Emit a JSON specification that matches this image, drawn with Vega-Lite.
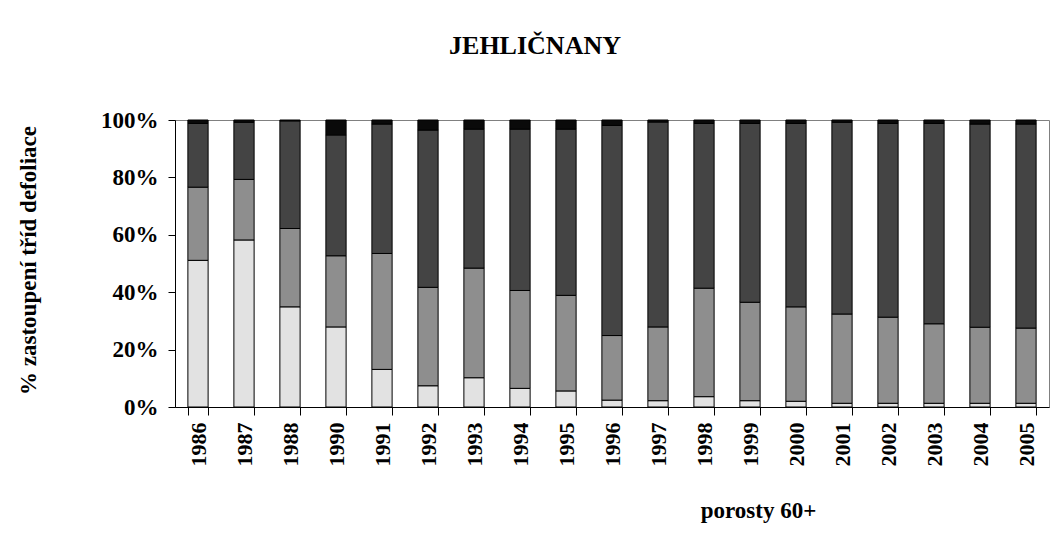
{
  "$schema": "https://vega.github.io/schema/vega-lite/v6.json",
  "width": 874,
  "height": 287,
  "autosize": "none",
  "padding": {"left": 175, "top": 120, "right": 4, "bottom": 133},
  "background": "white",
  "title": {
    "text": "JEHLIČNANY",
    "font": "Liberation Serif",
    "fontSize": 26,
    "fontWeight": "bold",
    "color": "black",
    "anchor": "middle",
    "dx": -77,
    "offset": 50
  },
  "data": {
    "values": [
      {"rok": "1986", "trida": "0", "podil": 51.1}, {"rok": "1986", "trida": "1", "podil": 25.5}, {"rok": "1986", "trida": "2", "podil": 22.2}, {"rok": "1986", "trida": "3+4", "podil": 1.2},
      {"rok": "1987", "trida": "0", "podil": 58.2}, {"rok": "1987", "trida": "1", "podil": 21.1}, {"rok": "1987", "trida": "2", "podil": 19.9}, {"rok": "1987", "trida": "3+4", "podil": 0.8},
      {"rok": "1988", "trida": "0", "podil": 34.9}, {"rok": "1988", "trida": "1", "podil": 27.3}, {"rok": "1988", "trida": "2", "podil": 37.5}, {"rok": "1988", "trida": "3+4", "podil": 0.3},
      {"rok": "1990", "trida": "0", "podil": 27.9}, {"rok": "1990", "trida": "1", "podil": 24.8}, {"rok": "1990", "trida": "2", "podil": 42.1}, {"rok": "1990", "trida": "3+4", "podil": 5.2},
      {"rok": "1991", "trida": "0", "podil": 13.1}, {"rok": "1991", "trida": "1", "podil": 40.4}, {"rok": "1991", "trida": "2", "podil": 45.1}, {"rok": "1991", "trida": "3+4", "podil": 1.4},
      {"rok": "1992", "trida": "0", "podil": 7.4}, {"rok": "1992", "trida": "1", "podil": 34.3}, {"rok": "1992", "trida": "2", "podil": 54.8}, {"rok": "1992", "trida": "3+4", "podil": 3.5},
      {"rok": "1993", "trida": "0", "podil": 10.2}, {"rok": "1993", "trida": "1", "podil": 38.2}, {"rok": "1993", "trida": "2", "podil": 48.4}, {"rok": "1993", "trida": "3+4", "podil": 3.2},
      {"rok": "1994", "trida": "0", "podil": 6.5}, {"rok": "1994", "trida": "1", "podil": 34.1}, {"rok": "1994", "trida": "2", "podil": 56.2}, {"rok": "1994", "trida": "3+4", "podil": 3.2},
      {"rok": "1995", "trida": "0", "podil": 5.6}, {"rok": "1995", "trida": "1", "podil": 33.3}, {"rok": "1995", "trida": "2", "podil": 57.9}, {"rok": "1995", "trida": "3+4", "podil": 3.2},
      {"rok": "1996", "trida": "0", "podil": 2.4}, {"rok": "1996", "trida": "1", "podil": 22.5}, {"rok": "1996", "trida": "2", "podil": 73.2}, {"rok": "1996", "trida": "3+4", "podil": 1.9},
      {"rok": "1997", "trida": "0", "podil": 2.2}, {"rok": "1997", "trida": "1", "podil": 25.7}, {"rok": "1997", "trida": "2", "podil": 71.4}, {"rok": "1997", "trida": "3+4", "podil": 0.7},
      {"rok": "1998", "trida": "0", "podil": 3.6}, {"rok": "1998", "trida": "1", "podil": 37.8}, {"rok": "1998", "trida": "2", "podil": 57.4}, {"rok": "1998", "trida": "3+4", "podil": 1.2},
      {"rok": "1999", "trida": "0", "podil": 2.2}, {"rok": "1999", "trida": "1", "podil": 34.3}, {"rok": "1999", "trida": "2", "podil": 62.3}, {"rok": "1999", "trida": "3+4", "podil": 1.2},
      {"rok": "2000", "trida": "0", "podil": 2.0}, {"rok": "2000", "trida": "1", "podil": 32.9}, {"rok": "2000", "trida": "2", "podil": 63.9}, {"rok": "2000", "trida": "3+4", "podil": 1.2},
      {"rok": "2001", "trida": "0", "podil": 1.3}, {"rok": "2001", "trida": "1", "podil": 31.1}, {"rok": "2001", "trida": "2", "podil": 66.8}, {"rok": "2001", "trida": "3+4", "podil": 0.8},
      {"rok": "2002", "trida": "0", "podil": 1.3}, {"rok": "2002", "trida": "1", "podil": 30.0}, {"rok": "2002", "trida": "2", "podil": 67.5}, {"rok": "2002", "trida": "3+4", "podil": 1.2},
      {"rok": "2003", "trida": "0", "podil": 1.3}, {"rok": "2003", "trida": "1", "podil": 27.7}, {"rok": "2003", "trida": "2", "podil": 69.8}, {"rok": "2003", "trida": "3+4", "podil": 1.2},
      {"rok": "2004", "trida": "0", "podil": 1.3}, {"rok": "2004", "trida": "1", "podil": 26.5}, {"rok": "2004", "trida": "2", "podil": 70.8}, {"rok": "2004", "trida": "3+4", "podil": 1.4},
      {"rok": "2005", "trida": "0", "podil": 1.3}, {"rok": "2005", "trida": "1", "podil": 26.2}, {"rok": "2005", "trida": "2", "podil": 71.1}, {"rok": "2005", "trida": "3+4", "podil": 1.4}
    ]
  },
  "mark": {"type": "bar", "stroke": "black", "strokeWidth": 1},
  "encoding": {
    "x": {
      "field": "rok",
      "type": "ordinal",
      "scale": {"paddingInner": 0.56, "paddingOuter": 0.28},
      "axis": {
        "title": "porosty 60+",
        "titleFont": "Liberation Serif",
        "titleFontSize": 23,
        "titleFontWeight": "bold",
        "titleColor": "black",
        "titleX": 583,
        "titleY": 103,
        "titleBaseline": "middle",
        "labelAngle": -90,
        "labelFont": "Liberation Serif",
        "labelFontSize": 22,
        "labelFontWeight": "bold",
        "labelColor": "black",
        "labelPadding": 7,
        "tickBand": "extent",
        "tickSize": 8,
        "tickColor": "black",
        "domainColor": "black",
        "labelOverlap": false
      }
    },
    "y": {
      "field": "podil",
      "type": "quantitative",
      "stack": "normalize",
      "scale": {"domain": [0, 1]},
      "axis": {
        "title": "% zastoupení tříd defoliace",
        "titleFont": "Liberation Serif",
        "titleFontSize": 23,
        "titleFontWeight": "bold",
        "titleColor": "black",
        "titleX": -147,
        "titleY": 140,
        "titleAngle": -90,
        "titleAlign": "center",
        "titleBaseline": "middle",
        "format": ".0%",
        "values": [0, 0.2, 0.4, 0.6, 0.8, 1],
        "labelFont": "Liberation Serif",
        "labelFontSize": 23,
        "labelFontWeight": "bold",
        "labelColor": "black",
        "labelPadding": 10,
        "tickSize": 7,
        "tickColor": "black",
        "domainColor": "black",
        "grid": false
      }
    },
    "color": {
      "field": "trida",
      "type": "nominal",
      "scale": {"domain": ["0", "1", "2", "3+4"], "range": ["#e2e2e2", "#8e8e8e", "#444444", "#0a0a0a"]},
      "legend": null
    },
    "order": {"field": "trida", "type": "ordinal", "sort": "ascending"}
  },
  "config": {
    "view": {"stroke": "#808080", "strokeWidth": 1}
  }
}
